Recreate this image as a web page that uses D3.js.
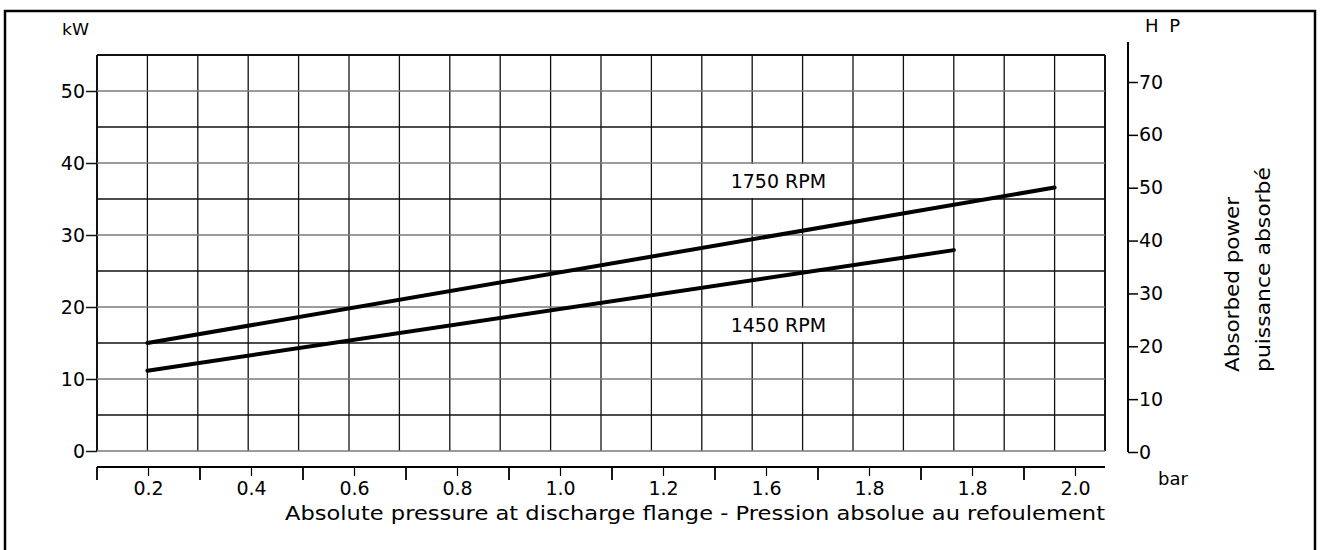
<!DOCTYPE html>
<html>
<head>
<meta charset="utf-8">
<script src="https://cdn.jsdelivr.net/npm/d3@7"></script>
<style>
  html, body { margin: 0; padding: 0; background: #fff; }
  svg { display: block; }
  text { font-family: "DejaVu Sans", sans-serif; fill: #000; }
</style>
</head>
<body>
<svg id="chart" width="1322" height="550"></svg>
<script>
// ---- data ----
const kwTicks = [0, 10, 20, 30, 40, 50];
const hpTicks = [0, 10, 20, 30, 40, 50, 60, 70];
const xAxisLabels = ["0.2", "0.4", "0.6", "0.8", "1.0", "1.2", "1.6", "1.8", "1.8", "2.0"];
const rpm1750 = [[0.2, 15.0], [2.0, 36.6]];
const rpm1450 = [[0.2, 11.15], [1.8, 27.9]];
const seriesLabels = [
  { text: "1750 RPM", x0: 1.3, x1: 1.6, y0: 35, y1: 40 },
  { text: "1450 RPM", x0: 1.3, x1: 1.6, y0: 15, y1: 20 }
];
const yTitle = ["Absorbed power", "puissance absorbé"];
const xTitle = "Absolute pressure at discharge flange - Pression absolue au refoulement";

// ---- layout ----
const W = 1322, H = 550;
const gridL = 97, gridR = 1105, gridB = 451, gridT = 55;
const svg = d3.select("#chart");
svg.append("rect").attr("width", W).attr("height", H).attr("fill", "#fff");

// outer frame (bottom edge off-page as in the scan)
svg.append("rect").attr("x", 5).attr("y", 11).attr("width", 1310).attr("height", 600)
  .attr("fill", "none").attr("stroke", "#000").attr("stroke-width", 2.5);

const x = d3.scaleLinear().domain([0.1, 2.1]).range([gridL, gridR]);
const y = d3.scaleLinear().domain([0, 55]).range([gridB, gridT]);
const yHP = d3.scaleLinear().domain([0, 70]).range([452, 82]);
const xb = d3.scaleBand().domain(d3.range(xAxisLabels.length)).range([gridL, gridL + 103 * xAxisLabels.length]);

// ---- grid ----
const grid = svg.append("g");
const xs = d3.range(1, 22).map(i => i / 10);
grid.selectAll("line.v").data(xs).join("line")
  .attr("x1", d => x(d)).attr("x2", d => x(d))
  .attr("y1", y(0)).attr("y2", y(55))
  .attr("stroke", "#111").attr("stroke-width", d => (Math.abs(d - 0.1) < 1e-6 || Math.abs(d - 2.1) < 1e-6) ? 2 : 1.3);
const ys = d3.range(0, 56, 5);
grid.selectAll("line.h").data(ys).join("line")
  .attr("x1", x(0.1)).attr("x2", x(2.1))
  .attr("y1", d => y(d)).attr("y2", d => y(d))
  .attr("stroke", d => (d % 10 === 0) ? "#7a7a7a" : "#111")
  .attr("stroke-width", d => d === 55 ? 2 : 1.5);

// ---- label boxes (mask the grid) ----
svg.selectAll("rect.lbl").data(seriesLabels).join("rect")
  .attr("x", d => x(d.x0) + 1).attr("y", d => y(d.y1) + 1)
  .attr("width", d => x(d.x1) - x(d.x0) - 2).attr("height", d => y(d.y0) - y(d.y1) - 2)
  .attr("fill", "#fff");
svg.selectAll("text.lbl").data(seriesLabels).join("text")
  .attr("x", d => (x(d.x0) + x(d.x1)) / 2 + 1)
  .attr("y", d => (y(d.y0) + y(d.y1)) / 2 + 7)
  .attr("text-anchor", "middle").attr("font-size", 19)
  .text(d => d.text);

// ---- curves ----
const line = d3.line().x(d => x(d[0])).y(d => y(d[1]));
[rpm1750, rpm1450].forEach(s => {
  svg.append("path").attr("d", line(s)).attr("fill", "none")
    .attr("stroke", "#000").attr("stroke-width", 4).attr("stroke-linecap", "round");
});

// ---- left kW axis ----
const ax = svg.append("g").attr("transform", `translate(${gridL},0)`)
  .call(d3.axisLeft(y).tickValues(kwTicks).tickSize(11).tickPadding(1));
ax.select(".domain").remove();
ax.selectAll("line").attr("stroke", "#111").attr("stroke-width", 1.5);
ax.selectAll("text").attr("font-size", 19).attr("font-family", "DejaVu Sans");
svg.append("text").attr("x", 62).attr("y", 35).attr("font-size", 15)
  .attr("textLength", 27).attr("lengthAdjust", "spacingAndGlyphs").text("kW");

// ---- right HP axis ----
const hpX = 1128;
svg.append("line").attr("x1", hpX).attr("x2", hpX).attr("y1", 42).attr("y2", yHP(0))
  .attr("stroke", "#000").attr("stroke-width", 2);
const ah = svg.append("g").attr("transform", `translate(${hpX},0)`)
  .call(d3.axisRight(yHP).tickValues(hpTicks).tickSize(10).tickPadding(1));
ah.select(".domain").remove();
ah.selectAll("line").attr("stroke", "#000").attr("stroke-width", 1.5);
ah.selectAll("text").attr("font-size", 19).attr("font-family", "DejaVu Sans");
svg.append("text").attr("x", 1145).attr("y", 32).attr("font-size", 18)
  .attr("textLength", 35).attr("lengthAdjust", "spacing").text("H P");

// ---- bottom axis ----
const axY = 467;
svg.append("line").attr("x1", gridL).attr("x2", gridR).attr("y1", axY).attr("y2", axY)
  .attr("stroke", "#000").attr("stroke-width", 2);
svg.selectAll("line.major").data(d3.range(xAxisLabels.length)).join("line")
  .attr("x1", d => xb(d)).attr("x2", d => xb(d))
  .attr("y1", axY).attr("y2", axY + 13)
  .attr("stroke", "#000").attr("stroke-width", 1.8);
const ab = svg.append("g").attr("transform", `translate(0,${axY})`)
  .call(d3.axisBottom(xb).tickFormat(i => xAxisLabels[i]).tickSize(9).tickPadding(6));
ab.select(".domain").remove();
ab.selectAll("line").attr("stroke", "#000").attr("stroke-width", 1.2);
ab.selectAll("text").attr("font-size", 19).attr("font-family", "DejaVu Sans");

svg.append("text").attr("x", 1158).attr("y", 485).attr("font-size", 18).text("bar");
svg.append("text").attr("x", 285).attr("y", 520).attr("font-size", 20)
  .attr("textLength", 820).attr("lengthAdjust", "spacingAndGlyphs").text(xTitle);

// ---- rotated y title ----
const tPos = [{ x: 1239, len: 175 }, { x: 1270, len: 205 }];
yTitle.forEach((t, i) => {
  svg.append("text").attr("transform", `translate(${tPos[i].x},372) rotate(-90)`)
    .attr("font-size", 20).attr("textLength", tPos[i].len)
    .attr("lengthAdjust", "spacingAndGlyphs").text(t);
});
</script>
</body>
</html>
